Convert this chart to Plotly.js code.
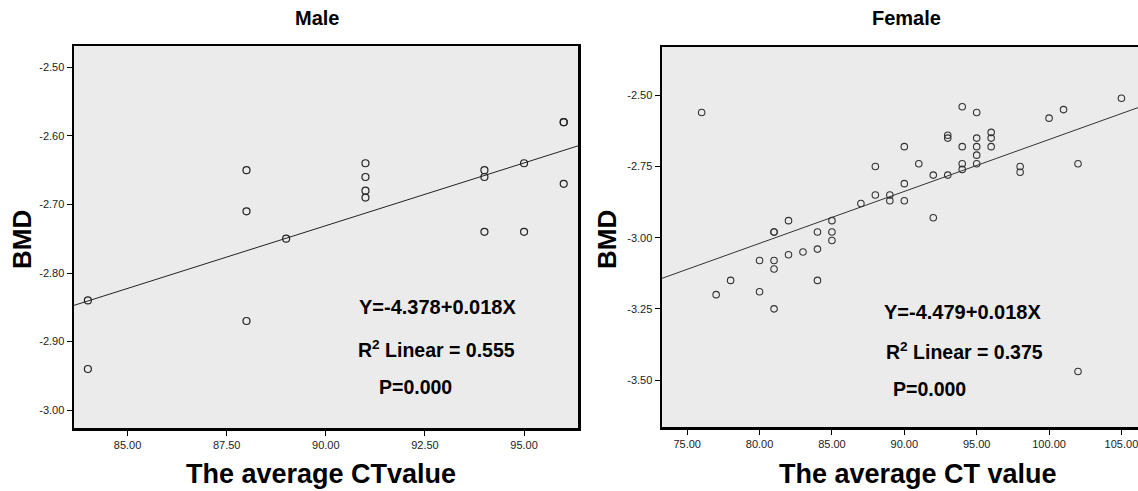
<!DOCTYPE html>
<html>
<head>
<meta charset="utf-8">
<script src="https://cdn.plot.ly/plotly-3.0.1.min.js"></script>
<style>
html, body { margin: 0; padding: 0; overflow: hidden; background: #fff; }
#chart { width: 1200px; height: 491px; }
</style>
</head>
<body>
<div id="chart"></div>
<script>
// ---- Data ----
const maleCT  = [84, 84, 88, 88, 88, 89, 91, 91, 91, 91, 94, 94, 94, 95, 95, 96, 96, 96];
const maleBMD = [-2.84, -2.94, -2.65, -2.71, -2.87, -2.75, -2.64, -2.66, -2.68, -2.69,
                 -2.65, -2.66, -2.74, -2.64, -2.74, -2.58, -2.58, -2.67];

const femaleCT  = [76, 77, 78, 80, 80, 81, 81, 81, 81, 81, 82, 82, 83, 84, 84, 84, 85, 85, 85,
                   87, 88, 88, 89, 89, 90, 90, 90, 91, 92, 92, 93, 93, 93, 94, 94, 94, 94,
                   95, 95, 95, 95, 95, 96, 96, 96, 98, 98, 100, 101, 102, 102, 105];
const femaleBMD = [-2.56, -3.20, -3.15, -3.08, -3.19, -2.98, -2.98, -3.08, -3.11, -3.25, -2.94, -3.06,
                   -3.05, -2.98, -3.04, -3.15, -2.94, -2.98, -3.01, -2.88, -2.75, -2.85, -2.85, -2.87,
                   -2.68, -2.81, -2.87, -2.74, -2.78, -2.93, -2.64, -2.65, -2.78, -2.54, -2.68, -2.74,
                   -2.76, -2.56, -2.65, -2.68, -2.71, -2.74, -2.63, -2.65, -2.68, -2.75, -2.77, -2.58,
                   -2.55, -2.74, -3.47, -2.51];

// regression coefficients [intercept, slope]
const maleFit   = [-4.378, 0.0183];
const femaleFit = [-4.479, 0.01824];

// tick values and labels
const maleXTicks   = [85, 87.5, 90, 92.5, 95];
const maleXLabels  = ['85.00', '87.50', '90.00', '92.50', '95.00'];
const maleYTicks   = [-3.0, -2.9, -2.8, -2.7, -2.6, -2.5];
const maleYLabels  = ['-3.00', '-2.90', '-2.80', '-2.70', '-2.60', '-2.50'];
const femXTicks    = [75, 80, 85, 90, 95, 100, 105];
const femXLabels   = ['75.00', '80.00', '85.00', '90.00', '95.00', '100.00', '105.00'];
const femYTicks    = [-3.5, -3.25, -3.0, -2.75, -2.5];
const femYLabels   = ['-3.50', '-3.25', '-3.00', '-2.75', '-2.50'];

const panelTitles = ['Male', 'Female'];
const xTitles = ['The average CTvalue', 'The average CT value'];
const yTitle = 'BMD';
const maleNotes   = ['Y=-4.378+0.018X', 'R<sup>2</sup> Linear = 0.555', 'P=0.000'];
const femaleNotes = ['Y=-4.479+0.018X', 'R<sup>2</sup> Linear = 0.375', 'P=0.000'];

// ---- Layout ----
const W = 1200, H = 491;
const px = v => v / W;
const py = v => (H - v) / H;

const maleXRange = [83.65, 96.36], maleYRange = [-3.026, -2.469];
const femXRange = [73.26, 108.7], femYRange = [-3.665, -2.33];

function fitLine(coef, range) {
  const xs = [range[0], range[1]];
  return { x: xs, y: xs.map(x => coef[0] + coef[1] * x) };
}
const mLine = fitLine(maleFit, maleXRange);
const fLine = fitLine(femaleFit, femXRange);

const traces = [
  { x: mLine.x, y: mLine.y, xaxis: 'x', yaxis: 'y', mode: 'lines', type: 'scatter',
    line: { color: '#222', width: 1 }, hoverinfo: 'skip' },
  { x: maleCT, y: maleBMD, xaxis: 'x', yaxis: 'y', mode: 'markers', type: 'scatter',
    marker: { symbol: 'circle-open', size: 7, color: '#222', line: { width: 1.2, color: '#222' } } },
  { x: fLine.x, y: fLine.y, xaxis: 'x2', yaxis: 'y2', mode: 'lines', type: 'scatter',
    line: { color: '#333', width: 1 }, hoverinfo: 'skip' },
  { x: femaleCT, y: femaleBMD, xaxis: 'x2', yaxis: 'y2', mode: 'markers', type: 'scatter',
    marker: { symbol: 'circle-open', size: 6.5, color: '#333', line: { width: 1.1, color: '#333' } } }
];

const tickFont = { family: 'Liberation Sans Narrow, Arial Narrow, Liberation Sans, Arial, sans-serif', size: 11, color: '#222' };
const axisCommon = {
  showline: true, linecolor: '#000', linewidth: 2.5, mirror: true,
  ticks: 'outside', ticklen: 5, tickwidth: 1, tickcolor: '#000',
  showgrid: false, zeroline: false, tickfont: tickFont, tickmode: 'array'
};

const boldFont = (s) => ({ family: 'Liberation Sans, Arial, sans-serif', size: s, color: '#000', weight: 'bold' });

function note(text, x, y, size) {
  return { text: '<b>' + text + '</b>', xref: 'paper', yref: 'paper', x: px(x), y: py(y),
           xanchor: 'center', yanchor: 'middle', showarrow: false, font: boldFont(size) };
}

const annotations = [
  note(panelTitles[0], 317, 18, 20),
  note(panelTitles[1], 906, 18, 20),
  note(xTitles[0], 321, 474, 27),
  note(xTitles[1], 918, 474, 27),
  Object.assign(note(yTitle, 22, 240, 26), { textangle: -90 }),
  Object.assign(note(yTitle, 607, 240, 26), { textangle: -90 }),
  note(maleNotes[0], 437, 307, 20),
  note(maleNotes[1], 436, 349, 19.5),
  note(maleNotes[2], 415, 387, 19.5),
  note(femaleNotes[0], 962, 312, 20),
  note(femaleNotes[1], 964, 351, 19.5),
  note(femaleNotes[2], 929, 389, 19.5)
];

const layout = {
  width: W, height: H,
  margin: { l: 0, r: 0, t: 0, b: 0 },
  paper_bgcolor: '#fff',
  plot_bgcolor: '#ebebeb',
  showlegend: false,
  xaxis: Object.assign({}, axisCommon, { domain: [px(74), px(578)], range: maleXRange,
          tickvals: maleXTicks, ticktext: maleXLabels, anchor: 'y' }),
  yaxis: Object.assign({}, axisCommon, { domain: [py(428), py(46)], range: maleYRange,
          tickvals: maleYTicks, ticktext: maleYLabels, anchor: 'x' }),
  xaxis2: Object.assign({}, axisCommon, { domain: [px(662), px(1175)], range: femXRange,
          tickvals: femXTicks, ticktext: femXLabels, anchor: 'y2' }),
  yaxis2: Object.assign({}, axisCommon, { domain: [py(427), py(47)], range: femYRange,
          tickvals: femYTicks, ticktext: femYLabels, anchor: 'x2' }),
  annotations: annotations
};

Plotly.newPlot('chart', traces, layout, { displayModeBar: false, staticPlot: true });
</script>
</body>
</html>
